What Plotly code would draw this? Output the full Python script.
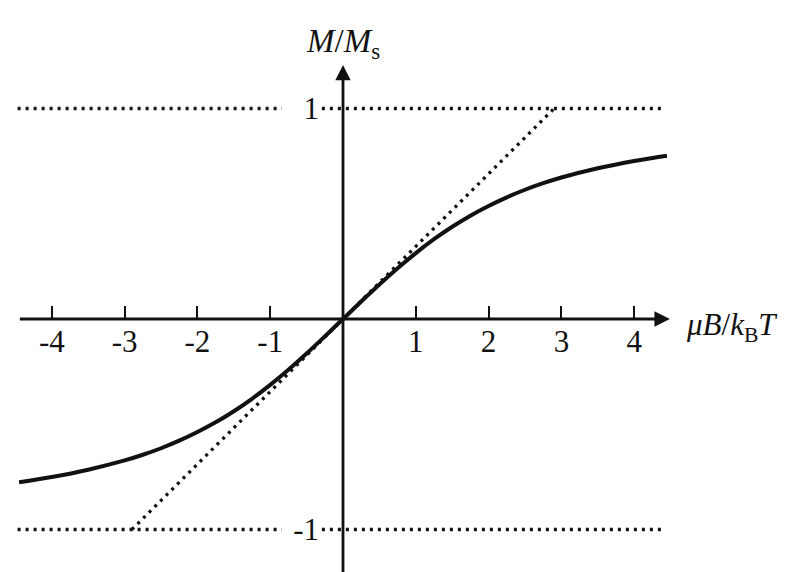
import plotly.graph_objects as go

# Langevin-type magnetisation curve
field = [-4.45, -4.0, -3.5, -3.0, -2.75, -2.5, -2.25, -2.0, -1.75, -1.5, -1.25, -1.0,
         -0.75, -0.5, -0.25, 0.0, 0.25, 0.5, 0.75, 1.0, 1.25, 1.5, 1.75, 2.0,
         2.25, 2.5, 2.75, 3.0, 3.5, 4.0, 4.45]
magnet = [-0.776, -0.751, -0.716, -0.672, -0.645, -0.614, -0.578, -0.537, -0.491, -0.438,
          -0.379, -0.313, -0.241, -0.164, -0.083, 0.0, 0.083, 0.164, 0.241, 0.313,
          0.379, 0.438, 0.491, 0.537, 0.578, 0.614, 0.645, 0.672, 0.716, 0.751, 0.776]

# low-field asymptote (slope 1/3) and saturation levels
slope_x = [-2.9, 2.9]
slope_y = [-1.0, 1.0]
sat_left_x = [-4.47, -0.84]
sat_right_x = [-0.29, 4.42]

xticks = [-4, -3, -2, -1, 1, 2, 3, 4]
xticktext = ["-4", "-3", "-2", "-1", "1", "2", "3", "4"]
yticks = [-1, 1]
yticktext = ["-1", "1"]

serif = "Liberation Serif"
ink = "#111111"
dotted = dict(color=ink, width=3.3, dash="3px,5px")

fig = go.Figure()

for lvl in [1, -1]:
    for seg in [sat_left_x, sat_right_x]:
        fig.add_trace(go.Scatter(x=seg, y=[lvl, lvl], mode="lines", line=dotted,
                                 hoverinfo="skip"))

fig.add_trace(go.Scatter(x=slope_x, y=slope_y, mode="lines", line=dotted, hoverinfo="skip"))

fig.add_trace(go.Scatter(x=field, y=magnet, mode="lines", line_shape="spline",
                         line=dict(color=ink, width=4)))

# axes with arrow heads
fig.add_annotation(x=4.49, y=0, ax=-4.46, ay=0, xref="x", yref="y", axref="x", ayref="y",
                   text="", showarrow=True, arrowhead=2, arrowsize=1.1, arrowwidth=2.8,
                   arrowcolor=ink)
fig.add_annotation(x=0, y=1.207, ax=0, ay=-1.25, xref="x", yref="y", axref="x", ayref="y",
                   text="", showarrow=True, arrowhead=2, arrowsize=1.1, arrowwidth=2.8,
                   arrowcolor=ink)

fig.add_annotation(x=0, y=1.31, xref="x", yref="y", showarrow=False,
                   text="<i>M</i>/<i>M</i><sub>s</sub>",
                   font=dict(family=serif, size=33, color=ink))
fig.add_annotation(x=4.69, y=-0.04, xref="x", yref="y", showarrow=False, xanchor="left",
                   text="<i>μB</i>/<i>k</i><sub>B</sub><i>T</i>",
                   font=dict(family=serif, size=31, color=ink))

# page body adds an 8px margin, so the figure is 8px smaller than the window
fig.update_layout(
    width=780, height=564,
    margin=dict(l=0, r=0, t=0, b=0),
    paper_bgcolor="white", plot_bgcolor="white",
    showlegend=False,
    font=dict(family=serif, size=31, color=ink),
    xaxis=dict(range=[-4.602, 6.113], showgrid=False, zeroline=False, showline=False,
               tickvals=xticks, ticktext=xticktext, ticks="inside", ticklen=13,
               tickwidth=2.2, tickcolor=ink, anchor="free", position=0.4486,
               ticklabelstandoff=1, automargin=False),
    yaxis=dict(range=[-1.2019, 1.4774], showgrid=False, zeroline=False, showline=False,
               tickvals=yticks, ticktext=yticktext, ticks="", anchor="free",
               position=0.4295, ticklabelstandoff=24, automargin=False),
)

fig.write_html("out.html")
